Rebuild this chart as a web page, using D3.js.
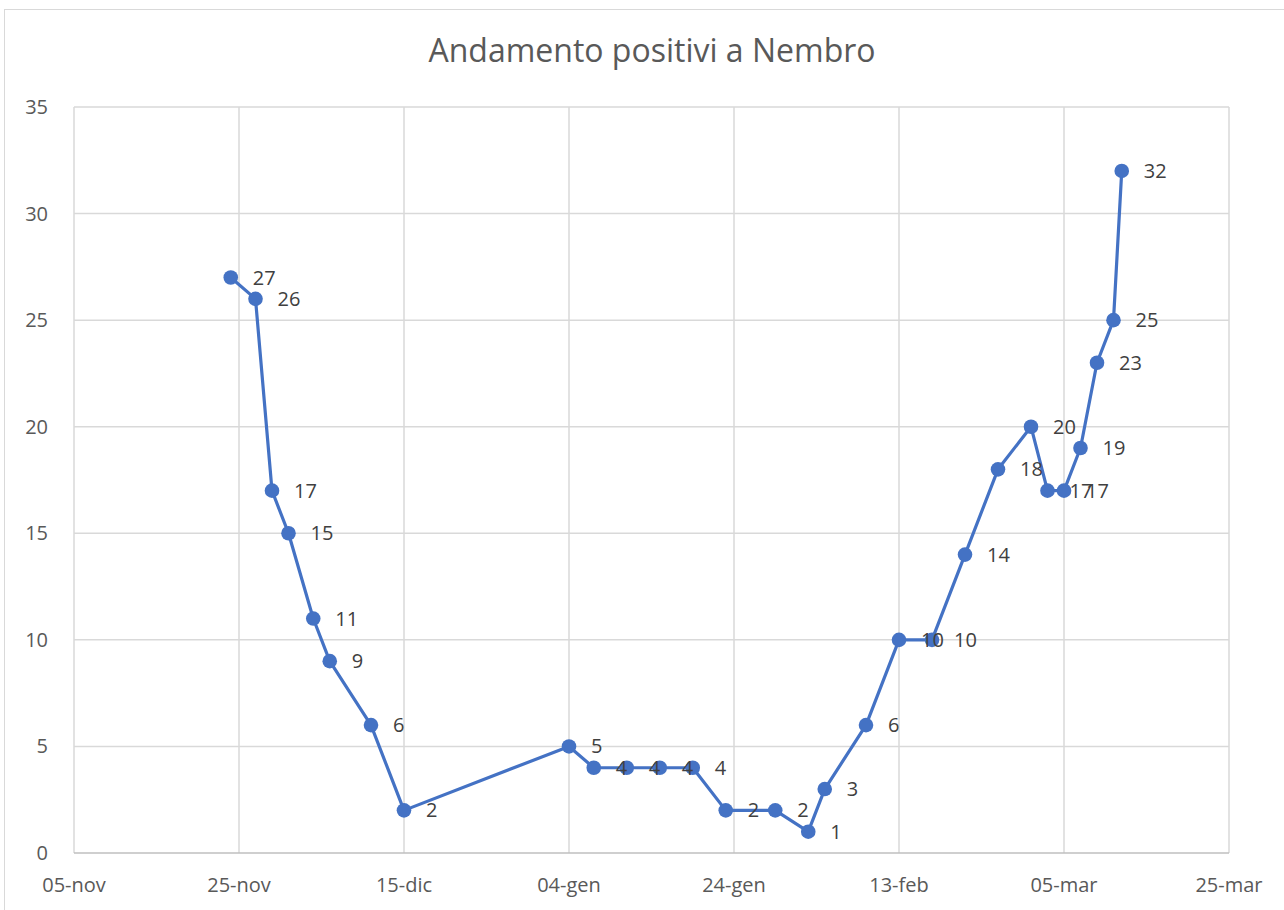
<!DOCTYPE html>
<html>
<head>
<meta charset="utf-8">
<script src="https://cdn.jsdelivr.net/npm/d3@7"></script>
<style>
  body { margin: 0; background: #fff; }
  text { font-family: "Open Sans", "Noto Sans", sans-serif; }
</style>
</head>
<body>
<div id="chart"></div>
<script>
// Chart values
const dates = [
  "2020-11-24", "2020-11-27", "2020-11-29", "2020-12-01", "2020-12-04", "2020-12-06",
  "2020-12-11", "2020-12-15", "2021-01-04", "2021-01-07", "2021-01-11", "2021-01-15",
  "2021-01-19", "2021-01-23", "2021-01-29", "2021-02-02", "2021-02-04", "2021-02-09",
  "2021-02-13", "2021-02-17", "2021-02-21", "2021-02-25", "2021-03-01", "2021-03-03",
  "2021-03-05", "2021-03-07", "2021-03-09", "2021-03-11", "2021-03-12"
];
const positivi = [
  27, 26, 17, 15, 11, 9,
  6, 2, 5, 4, 4, 4,
  4, 2, 2, 1, 3, 6,
  10, 10, 14, 18, 20, 17,
  17, 19, 23, 25, 32
];
const xTicks = ["2020-11-05", "2020-11-25", "2020-12-15", "2021-01-04", "2021-01-24",
  "2021-02-13", "2021-03-05", "2021-03-25"];
const yTicks = [0, 5, 10, 15, 20, 25, 30, 35];
const mesi = ["gen", "feb", "mar", "apr", "mag", "giu", "lug", "ago", "set", "ott", "nov", "dic"];

const width = 1284, height = 910;
const margin = { top: 107, right: 55, bottom: 57, left: 74 };
const parse = d3.timeParse("%Y-%m-%d");

const data = dates.map((d, i) => ({ date: parse(d), value: positivi[i] }));

const svg = d3.select("#chart").append("svg")
  .attr("width", width)
  .attr("height", height);

// outer chart frame
svg.append("rect")
  .attr("x", 4.5).attr("y", 9.5)
  .attr("width", width).attr("height", height)
  .attr("fill", "#fff")
  .attr("stroke", "#d9d9d9");

const x = d3.scaleTime()
  .domain([parse(xTicks[0]), parse(xTicks[xTicks.length - 1])])
  .range([margin.left, width - margin.right]);

const y = d3.scaleLinear()
  .domain([0, 35])
  .range([height - margin.bottom, margin.top]);

// gridlines
svg.append("g")
  .selectAll("line.h")
  .data(yTicks.slice(1))
  .enter().append("line")
  .attr("x1", margin.left).attr("x2", width - margin.right)
  .attr("y1", d => y(d)).attr("y2", d => y(d))
  .attr("stroke", "#d9d9d9").attr("stroke-width", 1.5);

svg.append("g")
  .selectAll("line.v")
  .data(xTicks)
  .enter().append("line")
  .attr("x1", d => x(parse(d))).attr("x2", d => x(parse(d)))
  .attr("y1", y(35)).attr("y2", y(0))
  .attr("stroke", "#d9d9d9").attr("stroke-width", 1.5);

// x axis baseline
svg.append("line")
  .attr("x1", margin.left).attr("x2", width - margin.right)
  .attr("y1", y(0)).attr("y2", y(0))
  .attr("stroke", "#bfbfbf").attr("stroke-width", 1.5);

// y tick labels
svg.append("g")
  .selectAll("text")
  .data(yTicks)
  .enter().append("text")
  .attr("x", 48)
  .attr("y", d => y(d))
  .attr("dy", "0.35em")
  .attr("text-anchor", "end")
  .attr("font-size", 20)
  .attr("fill", "#595959")
  .text(d => d);

// x tick labels
const fmt = d => d3.timeFormat("%d")(d) + "-" + mesi[d.getMonth()];
svg.append("g")
  .selectAll("text")
  .data(xTicks)
  .enter().append("text")
  .attr("x", d => x(parse(d)))
  .attr("y", 885)
  .attr("dy", "0.35em")
  .attr("text-anchor", "middle")
  .attr("font-size", 20)
  .attr("fill", "#595959")
  .text(d => fmt(parse(d)));

// title
svg.append("text")
  .attr("x", 652)
  .attr("y", 51)
  .attr("dy", "0.35em")
  .attr("text-anchor", "middle")
  .attr("font-size", 32)
  .attr("fill", "#595959")
  .text("Andamento positivi a Nembro");

const blue = "#4472c4";

// line
svg.append("path")
  .datum(data)
  .attr("fill", "none")
  .attr("stroke", blue)
  .attr("stroke-width", 3.2)
  .attr("stroke-linejoin", "round")
  .attr("d", d3.line().x(d => x(d.date)).y(d => y(d.value)));

// markers
svg.append("g")
  .selectAll("circle")
  .data(data)
  .enter().append("circle")
  .attr("cx", d => x(d.date))
  .attr("cy", d => y(d.value))
  .attr("r", 7.3)
  .attr("fill", blue);

// data labels (right of each point)
svg.append("g")
  .selectAll("text")
  .data(data)
  .enter().append("text")
  .attr("x", d => x(d.date) + 22)
  .attr("y", d => y(d.value))
  .attr("dy", "0.35em")
  .attr("font-size", 20)
  .attr("fill", "#404040")
  .text(d => d.value);
</script>
</body>
</html>
